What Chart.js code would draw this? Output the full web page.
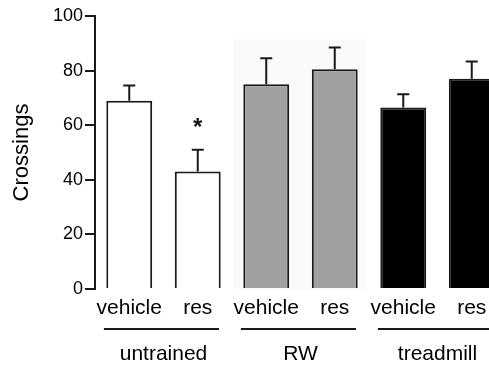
<!DOCTYPE html>
<html>
<head>
<meta charset="utf-8">
<script src="https://cdn.jsdelivr.net/npm/chart.js@4"></script>
<style>
  html, body { margin: 0; padding: 0; background: #fff; overflow: hidden; }
  #wrap { width: 506px; height: 367px; }
</style>
</head>
<body>
<div id="wrap"><canvas id="crossChart"></canvas></div>
<script>
// data
const conditions = ['vehicle', 'res', 'vehicle', 'res', 'vehicle', 'res'];
const groups = ['untrained', 'RW', 'treadmill'];
const crossings = [69, 43, 75, 80.5, 66.5, 77];
const sem = [5.5, 8, 9.5, 8, 4.8, 6.3];
const significant = [false, true, false, false, false, false];
const yTicks = [0, 20, 40, 60, 80, 100];

const fills = ['#ffffff', '#ffffff', '#a0a0a0', '#a0a0a0', '#000000', '#000000'];
const ink = '#1a1a1a';
const font = "'Liberation Sans', Arial, sans-serif";

// error bars, group underlines, asterisk, faint RW panel
const extras = {
    id: 'extras',
    beforeDatasetsDraw(chart) {
        const { ctx, scales: { x, y } } = chart;
        const step = x.getPixelForValue(1) - x.getPixelForValue(0);
        ctx.save();
        ctx.fillStyle = '#fafafa';
        const l = x.getPixelForValue(2) - step * 0.47;
        const r = x.getPixelForValue(3) + step * 0.47;
        ctx.fillRect(l, y.getPixelForValue(91.5), r - l, y.getPixelForValue(0) - y.getPixelForValue(91.5));
        ctx.restore();
    },
    afterDatasetsDraw(chart) {
        const { ctx, scales: { x, y } } = chart;
        const step = x.getPixelForValue(1) - x.getPixelForValue(0);
        ctx.save();
        ctx.strokeStyle = ink;
        ctx.lineWidth = 2;
        crossings.forEach((v, i) => {
            const cx = x.getPixelForValue(i);
            const y0 = y.getPixelForValue(v);
            const y1 = y.getPixelForValue(v + sem[i]);
            ctx.beginPath();
            ctx.moveTo(cx, y0);
            ctx.lineTo(cx, y1);
            ctx.moveTo(cx - 6, y1);
            ctx.lineTo(cx + 6, y1);
            ctx.stroke();
            if (significant[i]) {
                ctx.fillStyle = '#111';
                ctx.font = 'bold 24px ' + font;
                ctx.textAlign = 'center';
                ctx.textBaseline = 'middle';
                ctx.fillText('*', cx, y1 - 21);
            }
        });
        // lines under each pair of bars
        ctx.lineWidth = 2;
        const lineY = y.bottom + 40;
        groups.forEach((g, gi) => {
            const a = x.getPixelForValue(gi * 2) - step * 0.37;
            const b = x.getPixelForValue(gi * 2 + 1) + step * 0.31;
            ctx.beginPath();
            ctx.moveTo(a, lineY);
            ctx.lineTo(b, lineY);
            ctx.stroke();
        });
        ctx.restore();
    }
};

new Chart(document.getElementById('crossChart'), {
    type: 'bar',
    data: {
        labels: conditions,
        datasets: [{
            data: crossings,
            backgroundColor: fills,
            borderColor: ink,
            borderWidth: 2,
            borderSkipped: 'bottom',
            categoryPercentage: 1,
            barPercentage: 0.67
        }]
    },
    options: {
        responsive: true,
        maintainAspectRatio: false,
        animation: false,
        layout: { padding: { top: 16, left: 0, right: 0, bottom: 0 } },
        plugins: {
            legend: { display: false },
            tooltip: { enabled: false }
        },
        scales: {
            x: {
                weight: 1,
                grid: { display: false, drawTicks: false },
                border: { display: false },
                ticks: { color: '#000', font: { family: font, size: 21 }, padding: 7, maxRotation: 0 },
                afterFit: s => { s.height = 40; }
            },
            x2: {
                type: 'category',
                position: 'bottom',
                weight: 2,
                labels: groups,
                offset: true,
                grid: { display: false, drawTicks: false },
                border: { display: false },
                ticks: { color: '#000', font: { family: font, size: 21 }, padding: 13, maxRotation: 0 },
                afterFit: s => { s.height = 38; }
            },
            y: {
                min: 0,
                max: 100,
                afterFit: s => { s.width = 95; },
                afterBuildTicks: s => { s.ticks = yTicks.map(v => ({ value: v })); },
                grid: { drawOnChartArea: false, tickLength: 10, color: ink, lineWidth: 2 },
                border: { color: ink, width: 2 },
                ticks: { color: '#000', font: { family: font, size: 18 }, padding: 2 },
                title: {
                    display: true,
                    text: 'Crossings',
                    color: '#000',
                    font: { family: font, size: 22 },
                    padding: { top: 9, bottom: 0 }
                }
            }
        }
    },
    plugins: [extras]
});
</script>
</body>
</html>
